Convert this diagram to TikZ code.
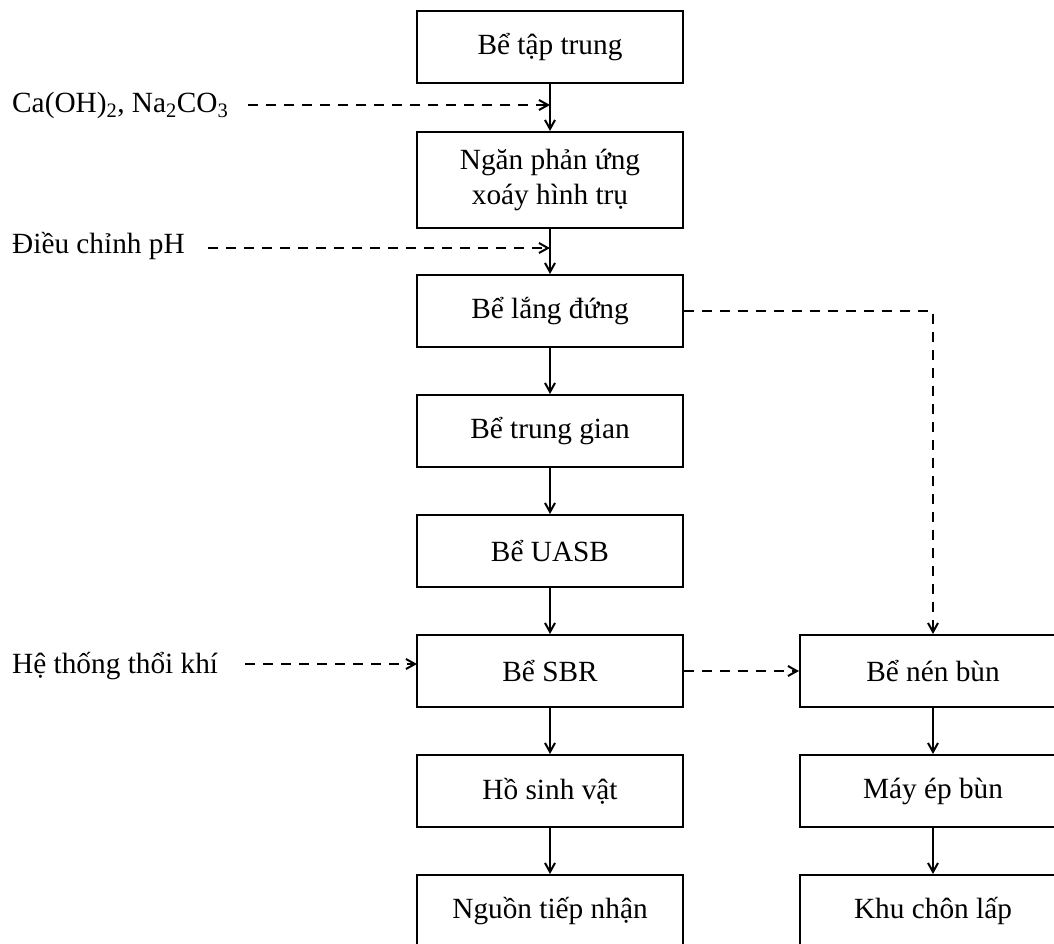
\documentclass[tikz,border=0pt]{standalone}
\usepackage{fontspec}
\setmainfont{Liberation Serif}
\usetikzlibrary{arrows.meta}
\begin{document}
\begin{tikzpicture}[x=1pt,y=-1pt,
  box/.style={draw, line width=2pt, minimum width=266pt, minimum height=72pt, inner sep=0pt, align=center, font=\fontsize{29.3}{35}\selectfont},
  lbl/.style={anchor=base west, inner sep=0pt, font=\fontsize{29.3}{35}\selectfont},
  flow/.style={line width=2pt, -{Straight Barb[length=9pt,width=10pt]}},
  aux/.style={line width=2.4pt, dash pattern=on 10pt off 8pt, -{Straight Barb[length=9pt,width=10pt,line width=2pt]}}
]
\useasboundingbox (0,0) rectangle (1054,943);
\clip (0,0) rectangle (1054,943);
% left column
\node[box] (t1) at (550,47) {Bể tập trung};
\node[box, minimum height=96pt] (t2) at (550,180) {Ngăn phản ứng\\xoáy hình trụ};
\node[box] (t3) at (550,311) {Bể lắng đứng};
\node[box] (t4) at (550,431) {Bể trung gian};
\node[box] (t5) at (550,551) {Bể UASB};
\node[box] (t6) at (550,671) {Bể SBR};
\node[box] (t7) at (550,791) {Hồ sinh vật};
\node[box] (t8) at (550,911) {Nguồn tiếp nhận};
% right column
\node[box] (r1) at (933,671) {Bể nén bùn};
\node[box] (r2) at (933,791) {Máy ép bùn};
\node[box] (r3) at (933,911) {Khu chôn lấp};
% labels
\node[lbl] (ca) at (12,112) {Ca(OH)\textsubscript{2}, Na\textsubscript{2}CO\textsubscript{3}};
\node[lbl] (ph) at (12,253) {Điều chỉnh pH};
\node[lbl] (air) at (12,673) {Hệ thống thổi khí};
\coordinate (caS) at (248,105);
\coordinate (caE) at (550,105);
\coordinate (phS) at (208,248);
\coordinate (phE) at (550,248);
\coordinate (airS) at (245,664);
\coordinate (airE) at (417,664);
% main flow
\draw[flow] (t1) -- (t2);
\draw[flow] (t2) -- (t3);
\draw[flow] (t3) -- (t4);
\draw[flow] (t4) -- (t5);
\draw[flow] (t5) -- (t6);
\draw[flow] (t6) -- (t7);
\draw[flow] (t7) -- (t8);
\draw[flow] (r1) -- (r2);
\draw[flow] (r2) -- (r3);
% auxiliary
\draw[aux] (caS) -- (caE);
\draw[aux] (phS) -- (phE);
\draw[aux] (airS) -- (airE);
\draw[aux] (t6) -- (r1);
\draw[aux] (t3.east) -| (r1.north);
\end{tikzpicture}
\end{document}
